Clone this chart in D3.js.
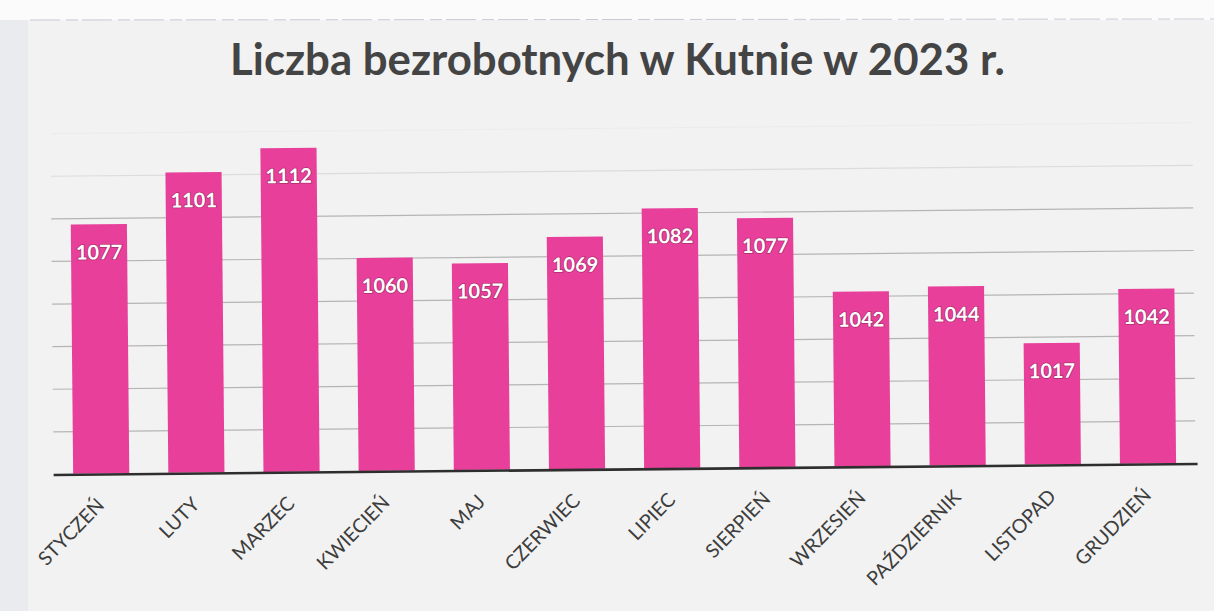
<!DOCTYPE html>
<html>
<head>
<meta charset="utf-8">
<script src="https://cdn.jsdelivr.net/npm/d3@7"></script>
<style>
  html, body { margin: 0; padding: 0; background: #f1f1f1; }
  svg { display: block; }
</style>
</head>
<body>
<svg id="chart" width="1214" height="611"></svg>
<script>
const titleText = "Liczba bezrobotnych w Kutnie w 2023 r.";
const months = ["STYCZEŃ","LUTY","MARZEC","KWIECIEŃ","MAJ","CZERWIEC","LIPIEC","SIERPIEŃ","WRZESIEŃ","PAŹDZIERNIK","LISTOPAD","GRUDZIEŃ"];
const unemployed = [1077,1101,1112,1060,1057,1069,1082,1077,1042,1044,1017,1042];
const yDomain = [960, 1120];
const yTickStep = 20;

const svg = d3.select("#chart");
const W = 1214, H = 611;

// paper background
svg.append("rect").attr("width", W).attr("height", H).attr("fill", "#f2f2f2");
svg.append("rect").attr("x", 0).attr("y", 0).attr("width", W).attr("height", 20).attr("fill", "#fbfbfb");
svg.append("line").attr("x1", 30).attr("x2", 1214).attr("y1", 20).attr("y2", 19)
  .attr("stroke", "#cdc7d6").attr("stroke-width", 1).attr("stroke-dasharray", "30 6 12 4");
svg.append("rect").attr("x", 0).attr("y", 20).attr("width", 28).attr("height", H - 20).attr("fill", "#eaebee");

const g = svg.append("g").attr("transform", "rotate(-0.55, 620, 300)");

const left = 52, right = 1194;
const x = d3.scaleBand().domain(months).range([left, right]).paddingInner(0.41).paddingOuter(0.205);
const y = d3.scaleLinear().domain(yDomain).range([468.5, 127.7]);

// gridlines
const gridVals = d3.range(yDomain[0] + yTickStep, yDomain[1] + 0.1, yTickStep);
const grid = g.append("g").attr("transform", `translate(${left},0)`)
  .call(d3.axisLeft(y).tickValues(gridVals).tickSize(-(right - left)).tickFormat(""));
grid.select(".domain").remove();
grid.selectAll(".tick line")
  .attr("stroke", d => d >= 1120 ? "#ececec" : d >= 1100 ? "#dcdcdc" : "#b5b5b5")
  .attr("stroke-width", 1.2);

// bars
g.append("g").selectAll("rect").data(months).join("rect")
  .attr("x", d => x(d))
  .attr("width", x.bandwidth())
  .attr("y", (d, i) => y(unemployed[i]))
  .attr("height", (d, i) => y(yDomain[0]) - y(unemployed[i]))
  .attr("fill", "#e8409a");

// data labels
g.append("g").selectAll("text").data(months).join("text")
  .attr("x", d => x(d) + x.bandwidth() / 2)
  .attr("y", (d, i) => y(unemployed[i]) + 35)
  .attr("text-anchor", "middle")
  .attr("font-family", "Lato, 'Open Sans', sans-serif")
  .attr("font-weight", 700)
  .attr("font-size", 20)
  .attr("fill", "#ffffff")
  .attr("stroke", "#7a1d4c")
  .attr("stroke-opacity", 0.55)
  .attr("stroke-width", 1.6)
  .attr("paint-order", "stroke")
  .text((d, i) => unemployed[i]);

// x axis
const xAxis = g.append("g").attr("transform", `translate(0,${y(yDomain[0])})`)
  .call(d3.axisBottom(x).tickSize(0));
xAxis.select(".domain").remove();
xAxis.selectAll(".tick text")
  .attr("x", 0).attr("y", 0).attr("dy", 0)
  .attr("transform", "translate(4,33) rotate(-45)")
  .attr("text-anchor", "end")
  .attr("font-family", "Lato, 'Open Sans', sans-serif")
  .attr("font-size", 19.5)
  .attr("fill", "#3d3d3d");
g.append("line")
  .attr("x1", left).attr("x2", right + 2)
  .attr("y1", y(yDomain[0]) + 1).attr("y2", y(yDomain[0]) + 1)
  .attr("stroke", "#2e2e2e").attr("stroke-width", 2.6);

// title
const title = svg.append("text")
  .attr("x", 617.5).attr("y", 75)
  .attr("text-anchor", "middle")
  .attr("font-family", "Lato, 'Open Sans', sans-serif")
  .attr("font-weight", 700)
  .attr("font-size", 40)
  .attr("fill", "#444444")
  .text(titleText);
const tw = title.node().getComputedTextLength();
title.attr("font-size", 40 * 775 / tw);
</script>
</body>
</html>
